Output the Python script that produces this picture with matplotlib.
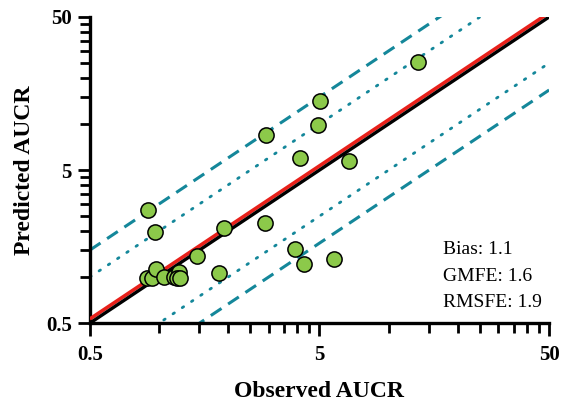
import numpy as np
import matplotlib
matplotlib.use("Agg")
import matplotlib.pyplot as plt
from matplotlib.ticker import FixedLocator, NullFormatter, FixedFormatter

plt.rcParams['font.family'] = ['Liberation Serif', 'DejaVu Serif']

observed = [13.4, 5.05, 4.92, 2.92, 4.12, 6.70, 1.92, 2.90, 3.92, 4.30, 5.76,
            1.83, 1.47, 0.90, 0.96, 0.887, 0.933, 0.971, 1.05, 1.16, 1.22, 1.20, 1.24]
predicted = [25.4, 14.1, 9.84, 8.47, 5.96, 5.75, 2.08, 2.25, 1.52, 1.21, 1.31,
             1.07, 1.38, 2.74, 1.98, 0.984, 0.984, 1.13, 1.0, 1.0, 1.08, 0.984, 0.98]
bias_line = 1.065
stats_text = "Bias: 1.1\nGMFE: 1.6\nRMSFE: 1.9"
xlabel = "Observed AUCR"
ylabel = "Predicted AUCR"
major = [0.5, 5, 50]
major_labels = ['0.5', '5', '50']

fig = plt.figure(figsize=(5.72, 4.04), dpi=100)
ax = fig.add_axes([0.157, 0.200, 0.803, 0.758])
ax.set_xscale('log')
ax.set_yscale('log')
lo, hi = 0.5, 50
ax.set_xlim(lo, hi)
ax.set_ylim(lo, hi)

xs = np.array([lo, hi])
teal = '#14879A'
ax.plot(xs, xs * 3, color=teal, lw=2.2, ls=(0, (4.2, 2.6)), zorder=2)
ax.plot(xs, xs / 3, color=teal, lw=2.2, ls=(0, (4.2, 2.6)), zorder=2)
ax.plot(xs, xs * 2, color=teal, lw=2.0, ls=(0, (0.6, 3.4)), dash_capstyle='round', zorder=2)
ax.plot(xs, xs / 2, color=teal, lw=2.0, ls=(0, (0.6, 3.4)), dash_capstyle='round', zorder=2)
ax.plot(xs, xs * bias_line, color='#E8201A', lw=2.6, zorder=3, solid_capstyle='butt')
ax.plot(xs, xs, color='black', lw=2.4, zorder=3, solid_capstyle='butt')

ax.scatter(observed, predicted, s=120, facecolor='#8CC94A', edgecolor='black',
           linewidth=1.1, zorder=5, clip_on=False)

minor = list(np.arange(0.5, 5.0, 0.5)) + list(np.arange(5, 51, 5))
for axis in (ax.xaxis, ax.yaxis):
    axis.set_major_locator(FixedLocator(major))
    axis.set_major_formatter(FixedFormatter(major_labels))
    axis.set_minor_locator(FixedLocator(minor))
    axis.set_minor_formatter(NullFormatter())

ax.tick_params(which='major', length=9, width=2, labelsize=15, pad=4)
ax.tick_params(axis='x', which='major', pad=7)
ax.tick_params(which='minor', length=7.5, width=2)
for lab in ax.get_xticklabels() + ax.get_yticklabels():
    lab.set_fontweight('bold')

for s in ['top', 'right']:
    ax.spines[s].set_visible(False)
for s in ['left', 'bottom']:
    ax.spines[s].set_linewidth(2.4)

ax.set_xlabel(xlabel, fontsize=17, fontweight='bold', labelpad=11)
ax.set_ylabel(ylabel, fontsize=17, fontweight='bold', labelpad=8)

ax.text(0.768, 0.04, stats_text, transform=ax.transAxes, fontsize=14,
        ha='left', va='bottom', linespacing=1.72)

fig.savefig('out.png', dpi=100)
